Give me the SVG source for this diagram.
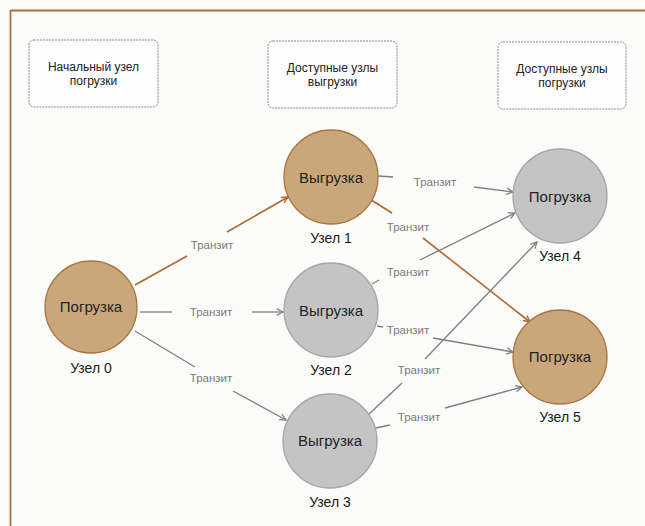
<svg xmlns="http://www.w3.org/2000/svg" width="645" height="526" viewBox="0 0 645 526">
<defs>
<style>
.box{fill:#fdfdfd;stroke:#8a8a8a;stroke-width:1;stroke-dasharray:2 1}
.bt{font-family:"Liberation Sans",Arial,sans-serif;font-size:12px;fill:#222;text-anchor:middle}
.ld{fill:#c9a77a;stroke:#a9753d;stroke-width:1.3}
.un{fill:#c4c4c4;stroke:#a6a6a6;stroke-width:1.3}
.nt{font-family:"Liberation Sans",Arial,sans-serif;font-size:15px;fill:#222;text-anchor:middle}
.lb{font-family:"Liberation Sans",Arial,sans-serif;font-size:14px;fill:#1a1a1a;text-anchor:middle}
.tr{font-family:"Liberation Sans",Arial,sans-serif;font-size:11.5px;fill:#7a7a7a;text-anchor:middle}
.g{stroke:#7f7f7f;stroke-width:1.3;fill:none}
.o{stroke:#b06a2c;stroke-width:1.6;fill:none}
</style>
<marker id="ag" viewBox="0 0 10 10" refX="9" refY="5" markerWidth="8" markerHeight="8" markerUnits="userSpaceOnUse" orient="auto">
<path d="M1,1 L9,5 L1,9" fill="none" stroke="#7f7f7f" stroke-width="1.6"/>
</marker>
<marker id="ao" viewBox="0 0 10 10" refX="9" refY="5" markerWidth="8" markerHeight="8" markerUnits="userSpaceOnUse" orient="auto">
<path d="M1,1 L9,5 L1,9" fill="none" stroke="#b06a2c" stroke-width="1.8"/>
</marker>
</defs>
<rect width="645" height="526" fill="#fbfbfa"/>
<path d="M10.5,526 L10.5,10.5 L645,10.5" fill="none" stroke="#a8733a" stroke-width="1.8"/>

<g id="header1"><rect class="box" x="29" y="40" width="129" height="67" rx="5"/><text class="bt" x="93.5" y="71">Начальный узел</text><text class="bt" x="93.5" y="85">погрузки</text></g>
<g id="header2"><rect class="box" x="268" y="41" width="129" height="67" rx="5"/><text class="bt" x="332.5" y="72">Доступные узлы</text><text class="bt" x="332.5" y="86">выгрузки</text></g>
<g id="header3"><rect class="box" x="498" y="42" width="128" height="67" rx="5"/><text class="bt" x="562" y="73">Доступные узлы</text><text class="bt" x="562" y="87">погрузки</text></g>

<g id="connectors">
<path class="o" d="M135,285 L187,256"/><path class="o" d="M227,232 L288,197" marker-end="url(#ao)"/>
<text class="tr" x="212" y="249">Транзит</text>
<path class="g" d="M140,312 L172,312"/><path class="g" d="M252,312 L283,312" marker-end="url(#ag)"/>
<text class="tr" x="211" y="316">Транзит</text>
<path class="g" d="M135,331 L195,367"/><path class="g" d="M233,391 L286,420" marker-end="url(#ag)"/>
<text class="tr" x="211" y="382">Транзит</text>
<path class="g" d="M378,176 L393,177"/><path class="g" d="M474,187 L513,192" marker-end="url(#ag)"/>
<text class="tr" x="435" y="186">Транзит</text>
<path class="o" d="M368,198 L392,213"/><path class="o" d="M423,238 L530,322" marker-end="url(#ao)"/>
<text class="tr" x="408" y="231">Транзит</text>
<path class="g" d="M372,284 L379,280"/><path class="g" d="M420,260 L515,213" marker-end="url(#ag)"/>
<text class="tr" x="408" y="276">Транзит</text>
<path class="g" d="M377,326 L383,327"/><path class="g" d="M433,338 L513,352" marker-end="url(#ag)"/>
<text class="tr" x="408" y="334">Транзит</text>
<path class="g" d="M368,415 L402,383"/><path class="g" d="M425,359 L537,242" marker-end="url(#ag)"/>
<text class="tr" x="419" y="374">Транзит</text>
<path class="g" d="M376,428 L390,425"/><path class="g" d="M445,408 L522,387" marker-end="url(#ag)"/>
<text class="tr" x="419" y="421">Транзит</text>
</g>

<g id="node0"><circle class="ld" cx="91" cy="307" r="46"/><text class="nt" x="91" y="312">Погрузка</text><text class="lb" x="91" y="373">Узел 0</text></g>
<g id="node1"><circle class="ld" cx="331" cy="177" r="47"/><text class="nt" x="331" y="183">Выгрузка</text><text class="lb" x="331" y="243">Узел 1</text></g>
<g id="node2"><circle class="un" cx="331" cy="310" r="47"/><text class="nt" x="331" y="316">Выгрузка</text><text class="lb" x="331" y="375">Узел 2</text></g>
<g id="node3"><circle class="un" cx="330" cy="441" r="47"/><text class="nt" x="330" y="446">Выгрузка</text><text class="lb" x="330" y="507">Узел 3</text></g>
<g id="node4"><circle class="un" cx="560" cy="196" r="47"/><text class="nt" x="560" y="202">Погрузка</text><text class="lb" x="560" y="261">Узел 4</text></g>
<g id="node5"><circle class="ld" cx="560" cy="357" r="47"/><text class="nt" x="560" y="362">Погрузка</text><text class="lb" x="560" y="422">Узел 5</text></g>
</svg>
